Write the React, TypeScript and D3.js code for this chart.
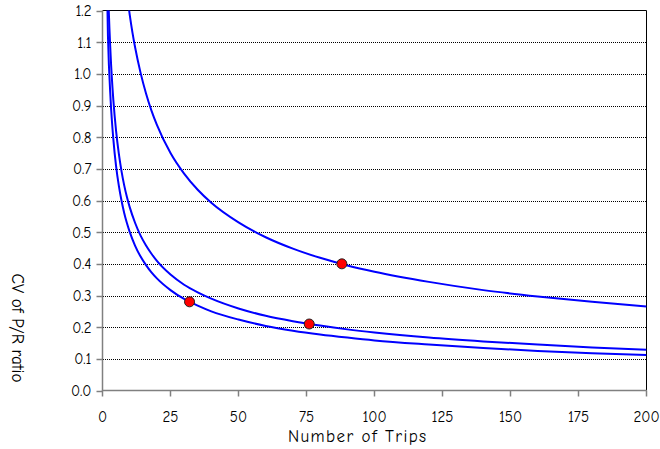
import React from "react";
import * as d3 from "d3";

const trips = [1, 2, 3, 4, 5, 6, 7, 8, 9, 10, 12, 14, 16, 18, 20, 25, 30, 35, 40, 50, 60, 70, 80, 90, 100, 120, 140, 160, 180, 200];
const lowerCV = [1.584, 1.12, 0.915, 0.792, 0.708, 0.647, 0.599, 0.56, 0.528, 0.501, 0.457, 0.423, 0.396, 0.373, 0.354, 0.317, 0.289, 0.268, 0.25, 0.224, 0.204, 0.189, 0.177, 0.167, 0.158, 0.145, 0.134, 0.125, 0.118, 0.112];
const middleCV = [1.831, 1.295, 1.057, 0.916, 0.819, 0.748, 0.692, 0.647, 0.61, 0.579, 0.529, 0.489, 0.458, 0.432, 0.409, 0.366, 0.334, 0.31, 0.29, 0.259, 0.236, 0.219, 0.205, 0.193, 0.183, 0.167, 0.155, 0.145, 0.136, 0.129];
const upperTrips = [9, 10, 11, 12, 14, 16, 18, 20, 25, 30, 35, 40, 50, 60, 70, 80, 90, 100, 120, 140, 160, 180, 200];
const upperCV = [1.251, 1.187, 1.131, 1.083, 1.003, 0.938, 0.884, 0.839, 0.75, 0.685, 0.634, 0.593, 0.531, 0.484, 0.448, 0.419, 0.395, 0.375, 0.343, 0.317, 0.297, 0.28, 0.265];
const pointTrips = [32, 76, 88];
const pointCV = [0.28, 0.21, 0.4];
const xTicks = [0, 25, 50, 75, 100, 125, 150, 175, 200];
const yTicks = [0, 0.1, 0.2, 0.3, 0.4, 0.5, 0.6, 0.7, 0.8, 0.9, 1.0, 1.1, 1.2];

const FONT = "'Comic Sans MS', 'Comic Neue', 'DejaVu Sans', sans-serif";

export default function App() {
  const W = 660, H = 449;
  const left = 102.5, right = 646.5, top = 10.5, bottom = 390.5;
  const x = d3.scaleLinear().domain([0, 200]).range([left, right]);
  const y = d3.scaleLinear().domain([0, 1.2]).range([bottom, top]);
  const line = d3.line<[number, number]>().x(d => x(d[0])).y(d => y(d[1])).curve(d3.curveMonotoneX);
  const series = [
    trips.map((t, i) => [t, lowerCV[i]] as [number, number]),
    trips.map((t, i) => [t, middleCV[i]] as [number, number]),
    upperTrips.map((t, i) => [t, upperCV[i]] as [number, number]),
  ];
  return (
    <svg width={W} height={H} style={{ position: "absolute", left: 0, top: 0, background: "#fff" }}>
      <defs>
        <clipPath id="plot">
          <rect x={left} y={top} width={right - left} height={bottom - top} />
        </clipPath>
      </defs>
      {yTicks.slice(1, -1).map(t => (
        <line key={t} x1={103} x2={646} y1={Math.round(y(t)) + 0.5} y2={Math.round(y(t)) + 0.5}
          stroke="#000" strokeWidth={1} strokeDasharray="1,1" shapeRendering="crispEdges" />
      ))}
      <line x1={left} x2={right} y1={top} y2={top} stroke="#000" strokeWidth={1} />
      <line x1={right} x2={right} y1={top} y2={bottom} stroke="#000" strokeWidth={1} />
      <line x1={left} x2={left} y1={top} y2={bottom + 0.5} stroke="#808080" strokeWidth={1.5} />
      <line x1={left} x2={right} y1={bottom} y2={bottom} stroke="#808080" strokeWidth={1.5} />
      {yTicks.map(t => (
        <g key={t}>
          <line x1={left - 6} x2={left} y1={Math.round(y(t)) + 0.5} y2={Math.round(y(t)) + 0.5} stroke="#808080" strokeWidth={1.5} />
          <text x={left - 11} y={y(t)} dy="0.36em" textAnchor="end" fontFamily={FONT} fontSize={15} fill="#000">{t.toFixed(1)}</text>
        </g>
      ))}
      {xTicks.map(t => (
        <g key={t}>
          <line x1={x(t)} x2={x(t)} y1={bottom} y2={bottom + 6} stroke="#808080" strokeWidth={1.5} />
          <text x={x(t)} y={421.5} textAnchor="middle" fontFamily={FONT} fontSize={15} fill="#000">{t}</text>
        </g>
      ))}
      <g clipPath="url(#plot)">
        {series.map((s, i) => (
          <path key={i} d={line(s) || ""} fill="none" stroke="#0000FF" strokeWidth={2} />
        ))}
      </g>
      {pointTrips.map((t, i) => (
        <circle key={i} cx={x(t)} cy={y(pointCV[i])} r={5} fill="#FF0000" stroke="#222" strokeWidth={1} />
      ))}
      <text x={288} y={442} textLength={138} lengthAdjust="spacing" fontFamily={FONT} fontSize={17} fill="#000">Number of Trips</text>
      <text transform="translate(12,328) rotate(90)" textAnchor="middle" fontFamily={FONT} fontSize={17} fill="#000">CV of P/R ratio</text>
    </svg>
  );
}
